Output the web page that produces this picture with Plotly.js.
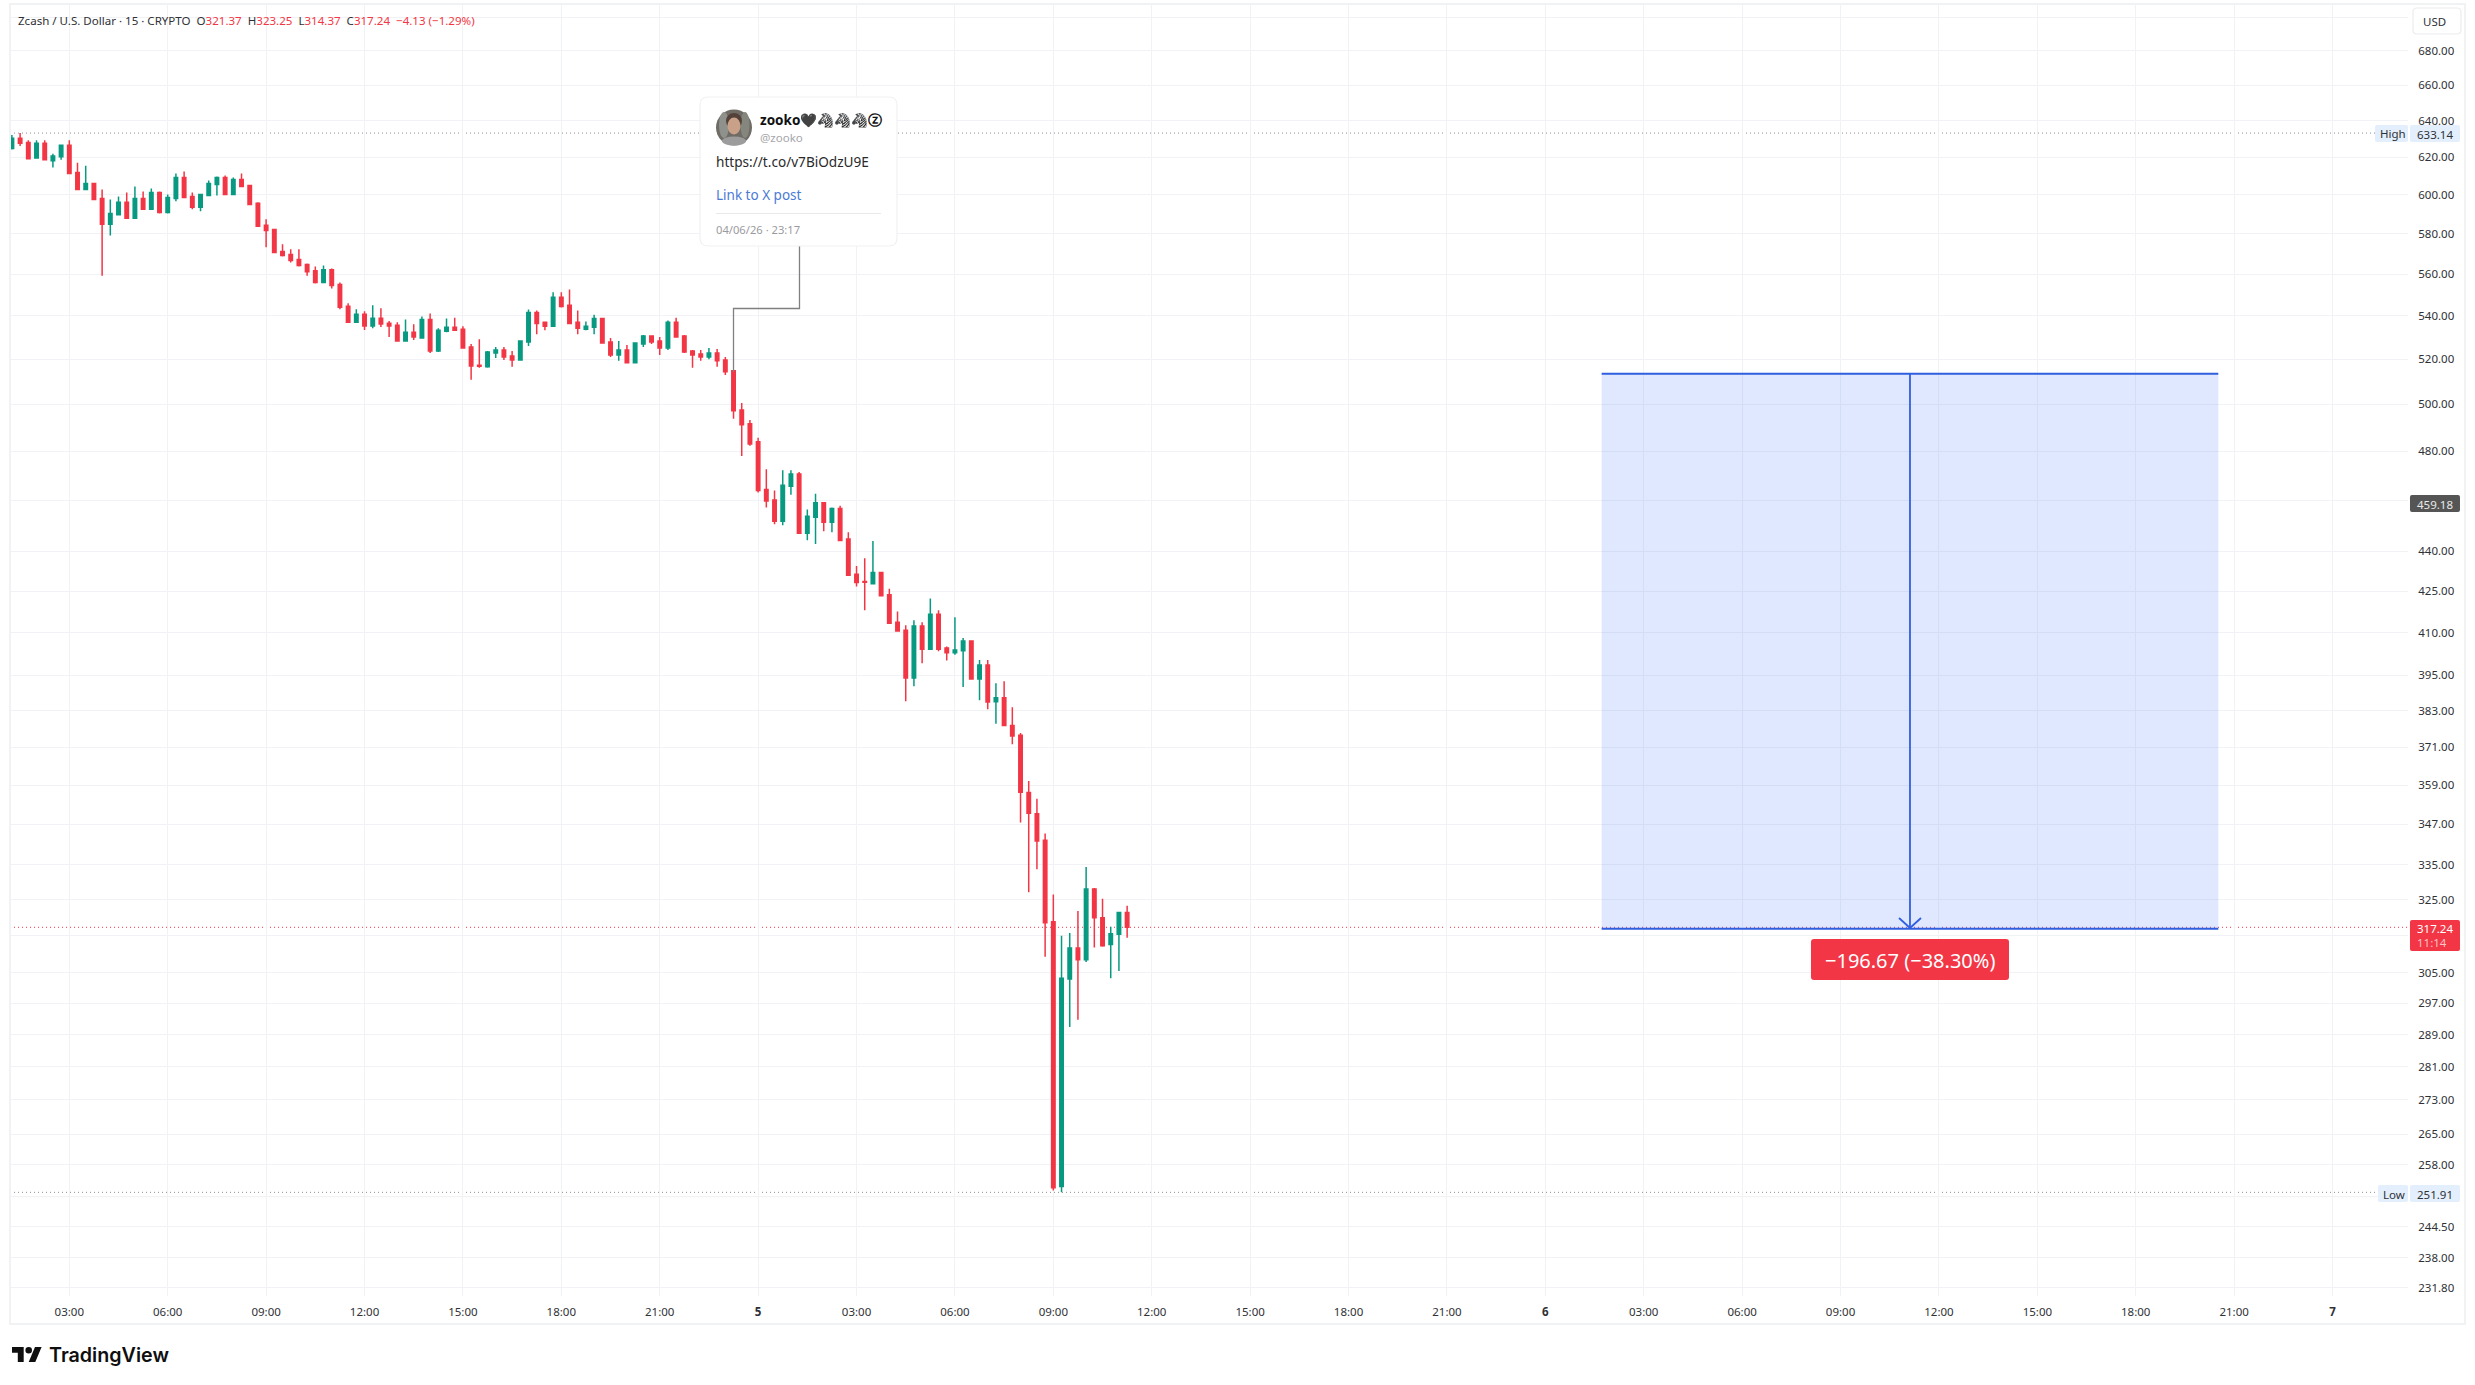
<!DOCTYPE html>
<html>
<head>
<meta charset="utf-8">
<title>Zcash / U.S. Dollar</title>
<script src="https://cdn.plot.ly/plotly-3.0.1.min.js"></script>
<style>
	html, body { margin: 0; padding: 0; background: #fff; }
	#chart { width: 2475px; height: 1385px; }
</style>
</head>
<body>
<div id="chart"></div>
<script>
'use strict';

// 15 minute bars
const times = [
	'2026-06-04 01:15', '2026-06-04 01:30', '2026-06-04 01:45',
	'2026-06-04 02:00', '2026-06-04 02:15', '2026-06-04 02:30', '2026-06-04 02:45',
	'2026-06-04 03:00', '2026-06-04 03:15', '2026-06-04 03:30', '2026-06-04 03:45',
	'2026-06-04 04:00', '2026-06-04 04:15', '2026-06-04 04:30', '2026-06-04 04:45',
	'2026-06-04 05:00', '2026-06-04 05:15', '2026-06-04 05:30', '2026-06-04 05:45',
	'2026-06-04 06:00', '2026-06-04 06:15', '2026-06-04 06:30', '2026-06-04 06:45',
	'2026-06-04 07:00', '2026-06-04 07:15', '2026-06-04 07:30', '2026-06-04 07:45',
	'2026-06-04 08:00', '2026-06-04 08:15', '2026-06-04 08:30', '2026-06-04 08:45',
	'2026-06-04 09:00', '2026-06-04 09:15', '2026-06-04 09:30', '2026-06-04 09:45',
	'2026-06-04 10:00', '2026-06-04 10:15', '2026-06-04 10:30', '2026-06-04 10:45',
	'2026-06-04 11:00', '2026-06-04 11:15', '2026-06-04 11:30', '2026-06-04 11:45',
	'2026-06-04 12:00', '2026-06-04 12:15', '2026-06-04 12:30', '2026-06-04 12:45',
	'2026-06-04 13:00', '2026-06-04 13:15', '2026-06-04 13:30', '2026-06-04 13:45',
	'2026-06-04 14:00', '2026-06-04 14:15', '2026-06-04 14:30', '2026-06-04 14:45',
	'2026-06-04 15:00', '2026-06-04 15:15', '2026-06-04 15:30', '2026-06-04 15:45',
	'2026-06-04 16:00', '2026-06-04 16:15', '2026-06-04 16:30', '2026-06-04 16:45',
	'2026-06-04 17:00', '2026-06-04 17:15', '2026-06-04 17:30', '2026-06-04 17:45',
	'2026-06-04 18:00', '2026-06-04 18:15', '2026-06-04 18:30', '2026-06-04 18:45',
	'2026-06-04 19:00', '2026-06-04 19:15', '2026-06-04 19:30', '2026-06-04 19:45',
	'2026-06-04 20:00', '2026-06-04 20:15', '2026-06-04 20:30', '2026-06-04 20:45',
	'2026-06-04 21:00', '2026-06-04 21:15', '2026-06-04 21:30', '2026-06-04 21:45',
	'2026-06-04 22:00', '2026-06-04 22:15', '2026-06-04 22:30', '2026-06-04 22:45',
	'2026-06-04 23:00', '2026-06-04 23:15', '2026-06-04 23:30', '2026-06-04 23:45',
	'2026-06-05 00:00', '2026-06-05 00:15', '2026-06-05 00:30', '2026-06-05 00:45',
	'2026-06-05 01:00', '2026-06-05 01:15', '2026-06-05 01:30', '2026-06-05 01:45',
	'2026-06-05 02:00', '2026-06-05 02:15', '2026-06-05 02:30', '2026-06-05 02:45',
	'2026-06-05 03:00', '2026-06-05 03:15', '2026-06-05 03:30', '2026-06-05 03:45',
	'2026-06-05 04:00', '2026-06-05 04:15', '2026-06-05 04:30', '2026-06-05 04:45',
	'2026-06-05 05:00', '2026-06-05 05:15', '2026-06-05 05:30', '2026-06-05 05:45',
	'2026-06-05 06:00', '2026-06-05 06:15', '2026-06-05 06:30', '2026-06-05 06:45',
	'2026-06-05 07:00', '2026-06-05 07:15', '2026-06-05 07:30', '2026-06-05 07:45',
	'2026-06-05 08:00', '2026-06-05 08:15', '2026-06-05 08:30', '2026-06-05 08:45',
	'2026-06-05 09:00', '2026-06-05 09:15', '2026-06-05 09:30', '2026-06-05 09:45',
	'2026-06-05 10:00', '2026-06-05 10:15', '2026-06-05 10:30', '2026-06-05 10:45',
	'2026-06-05 11:00', '2026-06-05 11:15',
];

const opens = [
	624.7, 630.3, 628, 619.6, 627.5, 618.1, 620.2, 626.4, 611.8, 602.8,
	606, 598.1, 584.8, 589.7, 596.1, 587.9, 598.1, 592.5, 601.2, 590.9,
	598.1, 609.1, 599.1, 593.5, 599.7, 605.4, 609.1, 600.2, 608.1, 604.9,
	595.6, 584.3, 582.2, 571.2, 569.7, 567.2, 564.7, 561.7, 555.9, 562.2,
	555, 544.6, 537.1, 540.8, 535.3, 538.9, 536.6, 535.7, 528.3, 532.4,
	529.7, 538.3, 523.8, 532.9, 534.7, 533.8, 525.6, 517.3, 516.6, 522.9,
	524.2, 521.5, 519.7, 527.9, 541.6, 537, 535.2, 548.8, 545, 537,
	533.8, 534.7, 538.8, 527.9, 522, 524.2, 518.4, 527, 530.6, 528.3,
	525.2, 537, 530.6, 523.8, 522.4, 521.1, 522.9, 519.7, 514.8, 497.6,
	491.6, 484, 464.3, 460.1, 451.7, 465.6, 470.6, 447, 453.2, 459,
	451.3, 456.7, 444.7, 431.3, 428.6, 427.8, 432, 423.7, 413.7, 410.8,
	394.1, 412.3, 404.1, 416.6, 404.5, 402.8, 403.5, 407, 393.7, 398.6,
	386, 387.4, 378.1, 374.9, 356.7, 350.2, 342.2, 318.8, 253.2, 303.3,
	311.6, 308.4, 328, 319.9, 312.5, 315.3, 321.37,
];
const highs = [
	632, 633.14, 629.2, 629.2, 629.2, 621.9, 626.4, 629.2, 617, 615.4,
	606, 602.8, 597.6, 599.1, 601.2, 604.4, 601.8, 603.3, 601.8, 600.2,
	611.2, 612.3, 601.2, 600.2, 607.5, 609.7, 610.2, 609.1, 611.2, 604.9,
	596.1, 587.4, 582.2, 574.7, 572.2, 572.2, 565.2, 563.7, 564.2, 562.7,
	555.9, 546, 543.1, 542.2, 545, 543.6, 537.6, 537.1, 538.3, 536.1,
	539.7, 541.1, 534.2, 538.8, 539.2, 535.2, 527, 529.2, 523.8, 525.6,
	525.6, 523.8, 528.3, 543, 542.6, 537.4, 551.2, 551.2, 552.6, 542.6,
	537.4, 540.6, 538.8, 529.7, 528.3, 526.5, 527.4, 531.1, 530.6, 530.2,
	537.9, 539.2, 531.1, 524.2, 524.2, 525.2, 524.7, 521.1, 514.8, 500.6,
	493.3, 485.7, 472.6, 463.9, 472.2, 472.2, 471.4, 456.3, 462.6, 459,
	457.1, 457.8, 447.4, 434.4, 437.4, 444, 432, 425.9, 417.6, 412.6,
	414.4, 413.7, 422.3, 418, 405, 415.5, 408, 407, 400.3, 400.3,
	392.3, 393, 384.2, 375.7, 360.3, 354.8, 344.2, 326.4, 314.9, 315.7,
	321.8, 334.3, 328.3, 325.2, 317.4, 321.5, 323.25,
];
const lows = [
	624.1, 626, 619.1, 619.6, 618.6, 614.4, 618.6, 611.2, 602.8, 602.8,
	597.6, 559.2, 579.2, 589.4, 587.9, 587.9, 592.5, 592.5, 590.4, 590.4,
	596.6, 598.6, 592.5, 591.5, 599.7, 599.7, 600.2, 600.2, 604.4, 595,
	583.8, 573.2, 570.7, 568.7, 565.7, 563.7, 559.2, 555.4, 555.9, 553.1,
	543.1, 537.1, 537.1, 533.4, 534.3, 534.8, 530.2, 528.4, 528.3, 528.8,
	529.7, 522.9, 523.3, 532.4, 533.3, 525.2, 510.8, 516.2, 516.2, 520.6,
	519.7, 516.6, 519.7, 526.1, 531.5, 533.3, 535.2, 544, 536.5, 531.5,
	533.3, 531.5, 527.4, 521.1, 519.3, 518.4, 518.4, 525.6, 527, 522,
	524.2, 530.2, 522.9, 516.2, 519.3, 520, 516.6, 513, 493.8, 478.1,
	482.3, 463.1, 457.1, 450.5, 450.1, 462.2, 447, 444.3, 442.8, 447.8,
	447.4, 443.9, 430.9, 426.7, 418, 427.8, 423.3, 413.3, 410.5, 386.2,
	391.3, 399.2, 404.1, 403.4, 400.1, 402.1, 391, 393.7, 386.5, 383.5,
	378.7, 378.1, 372, 347.5, 327.1, 333.7, 309.2, 252.3, 251.91, 290.9,
	292.7, 307.8, 311.7, 311.9, 303.5, 305.4, 314.37,
];
const closes = [
	630.3, 627.5, 619.1, 627.5, 618.6, 620.6, 626.4, 611.2, 602.8, 606,
	597.6, 584.8, 590.4, 596.1, 587.9, 598.1, 592.5, 601.2, 590.9, 598.6,
	609.1, 598.6, 593.5, 600.2, 606, 609.1, 600.2, 608.1, 604.4, 595,
	583.8, 581.7, 570.7, 569.2, 566.7, 564.2, 561.2, 555.9, 562.2, 554.5,
	544.1, 537.1, 540.8, 535.3, 538.9, 536.2, 535.3, 528.4, 532.4, 530.2,
	538.3, 523.8, 533.3, 534.7, 533.3, 525.2, 517, 516.9, 523.3, 524.2,
	521.1, 519.7, 528.3, 541.6, 536.5, 535.2, 548.8, 544.5, 536.5, 534.2,
	535.2, 538.8, 527.4, 522, 524.2, 518.4, 527.4, 530.6, 527.9, 525.2,
	537, 530.2, 523.3, 522, 521.1, 522.9, 519.3, 514.4, 497.2, 491.2,
	483.1, 463.9, 459.7, 451.7, 466, 470.6, 447, 453.6, 459, 451.3,
	456.7, 444.2, 430.9, 428.2, 428.3, 432, 423.3, 413.3, 410.5, 394.1,
	412.3, 404.1, 416.6, 404.1, 402.8, 403.8, 407, 393.7, 398.6, 385.9,
	387.4, 378.1, 374.7, 356.8, 350.3, 342, 318.5, 252.9, 303.5, 311.6,
	308.4, 328, 319.9, 312.2, 315.5, 321.37, 317.24,
];

// axis ticks, an empty label means the tick sits behind a price tag
const priceTicks = [700, 680, 660, 640, 620, 600, 580, 560, 540, 520, 500, 480, 460, 440, 425, 410, 395, 383, 371, 359, 347, 335, 325, 315, 305, 297, 289, 281, 273, 265, 258, 251, 244.5, 238, 231.8];
const priceLabels = ['', '680.00', '660.00', '640.00', '620.00', '600.00', '580.00', '560.00', '540.00', '520.00', '500.00', '480.00', '', '440.00', '425.00', '410.00', '395.00', '383.00', '371.00', '359.00', '347.00', '335.00', '325.00', '', '305.00', '297.00', '289.00', '281.00', '273.00', '265.00', '258.00', '', '244.50', '238.00', '231.80'];
const timeTicks = [
	'2026-06-04 03:00', '2026-06-04 06:00', '2026-06-04 09:00', '2026-06-04 12:00', '2026-06-04 15:00', '2026-06-04 18:00', '2026-06-04 21:00',
	'2026-06-05 00:00', '2026-06-05 03:00', '2026-06-05 06:00', '2026-06-05 09:00', '2026-06-05 12:00', '2026-06-05 15:00', '2026-06-05 18:00', '2026-06-05 21:00',
	'2026-06-06 00:00', '2026-06-06 03:00', '2026-06-06 06:00', '2026-06-06 09:00', '2026-06-06 12:00', '2026-06-06 15:00', '2026-06-06 18:00', '2026-06-06 21:00',
	'2026-06-07 00:00',
];
const timeLabels = [
	'03:00', '06:00', '09:00', '12:00', '15:00', '18:00', '21:00',
	'<b>5</b>', '03:00', '06:00', '09:00', '12:00', '15:00', '18:00', '21:00',
	'<b>6</b>', '03:00', '06:00', '09:00', '12:00', '15:00', '18:00', '21:00',
	'<b>7</b>',
];

const highPrice = 633.14;
const lowPrice = 251.91;
const lastPrice = 317.24;
const measureFrom = 513.51;
const measureTo = 316.84;

const UP = '#089981';
const DOWN = '#f23645';
const FONT = '"Noto Sans", "DejaVu Sans", sans-serif';
const TEXT = '#2f3136';

// plot box in page pixels, everything drawn around the chart is placed with these
const L = 10, R = 2408, T = 4, B = 1296;
const px = function (x) { return (x - L) / (R - L); };
const py = function (y) { return 1 - (y - T) / (B - T); };
const P = function (x, y) { return px(x).toFixed(5) + ',' + py(y).toFixed(5); };

const roundRect = function (x0, y0, x1, y1, r, fill, line) {
	const d = 'M' + P(x0 + r, y0) + ' L' + P(x1 - r, y0) + ' Q' + P(x1, y0) + ' ' + P(x1, y0 + r) +
		' L' + P(x1, y1 - r) + ' Q' + P(x1, y1) + ' ' + P(x1 - r, y1) +
		' L' + P(x0 + r, y1) + ' Q' + P(x0, y1) + ' ' + P(x0, y1 - r) +
		' L' + P(x0, y0 + r) + ' Q' + P(x0, y0) + ' ' + P(x0 + r, y0) + ' Z';
	return {
		type: 'path', xref: 'paper', yref: 'paper', path: d, fillcolor: fill,
		line: line ? { color: line, width: 1.2 } : { width: 0 },
	};
};
const polyline = function (pts, color, width) {
	return {
		type: 'path', xref: 'paper', yref: 'paper',
		path: pts.map(function (p, i) { return (i ? 'L' : 'M') + P(p[0], p[1]); }).join(' '),
		line: { color: color, width: width },
	};
};
const circle = function (cx, cy, rx, ry, fill) {
	return {
		type: 'circle', xref: 'paper', yref: 'paper', x0: px(cx - rx), x1: px(cx + rx), y0: py(cy + ry), y1: py(cy - ry),
		fillcolor: fill, line: { width: 0 },
	};
};
const label = function (x, y, text, size, color, anchor, weight) {
	return {
		xref: 'paper', yref: 'paper', x: px(anchor ? x : x - 1.5), y: py(y), text: text, showarrow: false,
		xanchor: anchor || 'left', yanchor: 'middle', align: anchor || 'left', borderpad: 0,
		font: { family: FONT, size: size, color: color || TEXT, weight: weight || 400 },
	};
};

const shapes = [
	// outer frame of the widget
	{ type: 'rect', xref: 'paper', yref: 'paper', x0: px(10), x1: px(2465), y0: py(4), y1: py(1324), line: { color: '#f1f2f4', width: 2 } },
	// high, low and last price lines
	{ type: 'line', layer: 'below', xref: 'paper', yref: 'y', x0: 0, x1: px(2375), y0: highPrice, y1: highPrice, line: { color: '#8a8e97', width: 1, dash: '1px,3px' } },
	{ type: 'line', layer: 'below', xref: 'paper', yref: 'y', x0: 0, x1: px(2375), y0: lowPrice, y1: lowPrice, line: { color: '#8a8e97', width: 1, dash: '1px,3px' } },
	{ type: 'line', layer: 'below', xref: 'paper', yref: 'y', x0: 0, x1: 1, y0: lastPrice, y1: lastPrice, line: { color: DOWN, width: 1, dash: '1px,3px' } },
	// price range measure
	{ type: 'rect', xref: 'x', yref: 'y', x0: '2026-06-06 01:43', x1: '2026-06-06 20:31', y0: measureTo, y1: measureFrom, fillcolor: 'rgba(41,98,255,0.15)', line: { width: 0 } },
	{ type: 'line', xref: 'x', yref: 'y', x0: '2026-06-06 01:43', x1: '2026-06-06 20:31', y0: measureFrom, y1: measureFrom, line: { color: '#2f5fdf', width: 1.8 } },
	{ type: 'line', xref: 'x', yref: 'y', x0: '2026-06-06 01:43', x1: '2026-06-06 20:31', y0: measureTo, y1: measureTo, line: { color: '#2f5fdf', width: 1.8 } },
	{ type: 'line', xref: 'x', yref: 'y', x0: '2026-06-06 11:07', x1: '2026-06-06 11:07', y0: measureFrom, y1: measureTo, line: { color: '#2f5fdf', width: 1.8 } },
	polyline([[1899, 918], [1910, 928], [1921, 918]], '#2f5fdf', 1.8),
	roundRect(1811, 939, 2009, 980, 3, DOWN),
	// connector of the post card
	polyline([[733.5, 372], [733.5, 308.5], [799.5, 308.5], [799.5, 246]], '#808080', 1.3),
	// post card
	roundRect(700, 97, 897, 246, 8, '#ffffff', '#f1f1f4'),
	polyline([[716, 213.5], [881, 213.5]], '#e9e9ec', 1.2),
	// avatar
	circle(734, 127.5, 18, 18, '#6f6c66'),
	circle(724, 125, 5, 13, '#8f918c'),
	circle(745, 125, 4.5, 13, '#85877f'),
	circle(734, 141, 12, 4.5, '#9c9c9c'),
	circle(734, 121, 8, 8, '#54423a'),
	circle(734, 126, 6.5, 8.5, '#c9a188'),
	// price tags
	roundRect(2375, 125, 2408, 142, 2, '#e3effd'),
	roundRect(2410, 125, 2460, 142, 2, '#e3effd'),
	roundRect(2378, 1185, 2408, 1202, 2, '#e3effd'),
	roundRect(2410, 1185, 2460, 1202, 2, '#e3effd'),
	roundRect(2410, 495, 2460, 512, 2, '#555555'),
	roundRect(2410, 920, 2460, 951, 2, DOWN),
	// currency button
	roundRect(2413, 8, 2461, 34, 4, '#ffffff', '#ececef'),
	// TradingView mark
	{ type: 'path', xref: 'paper', yref: 'paper', fillcolor: '#0f0f0f', line: { width: 0 }, path: 'M' + P(23.7, 1362) + ' L' + P(17.8, 1362) + ' L' + P(17.8, 1352.8) + ' L' + P(12, 1352.8) + ' L' + P(12, 1347) + ' L' + P(23.7, 1347) + ' Z' },
	{ type: 'path', xref: 'paper', yref: 'paper', fillcolor: '#0f0f0f', line: { width: 0 }, path: 'M' + P(35.3, 1362) + ' L' + P(28.7, 1362) + ' L' + P(35, 1347) + ' L' + P(41.6, 1347) + ' Z' },
	circle(28.7, 1350.3, 3.3, 3.3, '#0f0f0f'),
];

const annotations = [
	label(18, 20.5, 'Zcash / U.S. Dollar · 15 · CRYPTO  O<span style="color:' + DOWN + '">321.37</span>  H<span style="color:' + DOWN + '">323.25</span>  L<span style="color:' + DOWN + '">314.37</span>  C<span style="color:' + DOWN + '">317.24</span>  <span style="color:' + DOWN + '">−4.13 (−1.29%)</span>', 11.55, TEXT),
	label(1910, 960, '−196.67 (−38.30%)', 20, '#ffffff', 'center'),
	label(760, 120, 'zooko🖤🦓🦓🦓ⓩ', 13.5, '#111111', undefined, 700),
	label(760.5, 138, '@zooko', 11.5, '#a6a6aa'),
	label(716, 162, 'https://t.co/v7BiOdzU9E', 13.6, '#2a2a2a'),
	label(716, 195, 'Link to X post', 13.5, '#4a7ad6'),
	label(716, 229.5, '04/06/26 · 23:17', 11.2, '#9a9a9e'),
	label(2423, 21, 'USD', 11.5, TEXT),
	label(2380, 133.5, 'High', 11.5, TEXT),
	label(2418, 134, '633.14', 11.5, TEXT),
	label(2383, 1194, 'Low', 11.5, TEXT),
	label(2418, 1194, '251.91', 11.5, TEXT),
	label(2418, 504, '459.18', 11.5, '#e8e8e8'),
	label(2418, 928.5, '317.24', 11.5, '#ffffff'),
	label(2418, 943, '11:14', 11.5, 'rgba(255,255,255,0.7)'),
	label(49, 1355, 'TradingView', 19.7, '#0f0f0f', undefined, 600),
];
annotations[annotations.length - 1].font.family = 'Inter, "Noto Sans", sans-serif';

const traces = [
	{
		type: 'candlestick',
		x: times,
		open: opens,
		high: highs,
		low: lows,
		close: closes,
		whiskerwidth: 0,
		increasing: { line: { color: UP, width: 1.5 }, fillcolor: UP },
		decreasing: { line: { color: DOWN, width: 1.5 }, fillcolor: DOWN },
		hoverinfo: 'none',
	},
];

const layout = {
	width: 2475,
	height: 1385,
	margin: { l: L, r: 2475 - R, t: T, b: 1385 - B, pad: 0 },
	showlegend: false,
	dragmode: false,
	paper_bgcolor: '#ffffff',
	plot_bgcolor: '#ffffff',
	boxgap: 0.4,
	font: { family: FONT, size: 11.5, color: TEXT },
	xaxis: {
		type: 'date',
		range: ['2026-06-04 01:11:30', '2026-06-07 02:18:00'],
		rangeslider: { visible: false },
		tickmode: 'array',
		tickvals: timeTicks,
		ticktext: timeLabels,
		tickangle: 0,
		ticks: 'outside',
		ticklen: 5,
		tickcolor: 'rgba(0,0,0,0)',
		showgrid: true,
		gridcolor: '#f1f2f5',
		gridwidth: 1,
		zeroline: false,
		showline: false,
		tickfont: { family: FONT, size: 11.5, color: TEXT },
	},
	yaxis: {
		type: 'log',
		side: 'right',
		range: [2.36208, 2.85026],
		tickmode: 'array',
		tickvals: priceTicks,
		ticktext: priceLabels,
		ticks: 'outside',
		ticklen: 7,
		tickcolor: 'rgba(0,0,0,0)',
		showgrid: true,
		gridcolor: '#f1f2f5',
		gridwidth: 1,
		zeroline: false,
		showline: false,
		tickfont: { family: FONT, size: 11.5, color: TEXT },
	},
	shapes: shapes,
	annotations: annotations,
};

Plotly.newPlot('chart', traces, layout, { displayModeBar: false, staticPlot: true });
</script>
</body>
</html>
